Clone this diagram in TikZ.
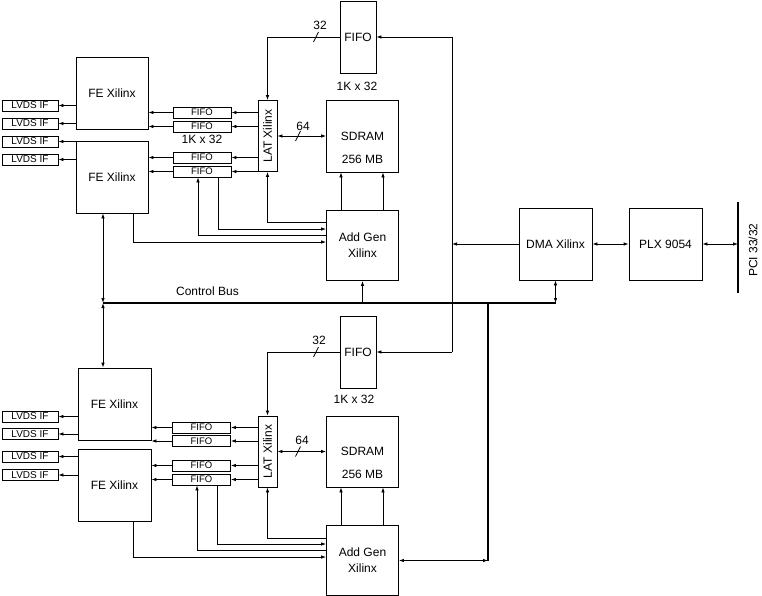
\documentclass[tikz,border=0pt]{standalone}
\usepackage{fontspec}
\setmainfont{Liberation Sans}
\usetikzlibrary{arrows.meta}

\begin{document}
\begin{tikzpicture}[x=1pt,y=-1pt,line width=0.8pt,
  font=\fontsize{12}{16}\selectfont,
  box/.style={draw, inner sep=0pt, align=center},
  febox/.style={box, minimum width=72pt, minimum height=72pt},
  lvds/.style={box, minimum width=56pt, minimum height=11pt, font=\fontsize{10}{10}\selectfont},
  ffsmall/.style={box, minimum width=58pt, minimum height=11pt, font=\fontsize{9.5}{9.5}\selectfont},
  lat/.style={box, minimum width=19pt, minimum height=71pt},
  arr/.style={-{Latex[length=5pt,width=3.5pt]}},
  dbl/.style={{Latex[length=5pt,width=3.5pt]}-{Latex[length=5pt,width=3.5pt]}},
  bus/.style={line width=2.2pt}]
\useasboundingbox (0,0) rectangle (762,596);

% upper board
\node[box, minimum width=36pt, minimum height=72pt](fifoA) at (358,37){FIFO};
\node(fifoAlab) at (357,86){1K x 32};
\node[febox](feA) at (112,93){FE Xilinx};
\node[febox](feB) at (112,177){FE Xilinx};
\foreach \i/\y in {1/105.5,2/123.5,3/141.5,4/159.5}
  \node[lvds](lvA\i) at (30,\y){LVDS IF};
\foreach \i/\y in {1/112.5,2/126.5,3/157.5,4/171.5}
  \node[ffsmall](ffA\i) at (202,\y){FIFO};
\node(ffAlab) at (202,139){1K x 32};
\node[lat](latA) at (267.5,136){\rotatebox{90}{LAT Xilinx}};
\node[box, minimum width=72pt, minimum height=72pt](sdrA) at (362.5,136){};
\node[align=center](sdrAtxt) at (362.5,147.5){SDRAM\\[7pt]256 MB};
\node[box, minimum width=72pt, minimum height=70pt](agA) at (362.5,245.5){Add Gen\\Xilinx};

% lower board
\node[box, minimum width=36pt, minimum height=72pt](fifoB) at (358,352){FIFO};
\node(fifoBlab) at (354,399){1K x 32};
\node[febox, minimum width=73pt](feC) at (114.5,404){FE Xilinx};
\node[febox, minimum width=73pt](feD) at (114.5,485){FE Xilinx};
\foreach \i/\y in {1/416.5,2/434,3/456.5,4/475}
  \node[lvds](lvB\i) at (30,\y){LVDS IF};
\foreach \i/\y in {1/427.5,2/441,3/465.5,4/479.5}
  \node[ffsmall](ffB\i) at (201.5,\y){FIFO};
\node[lat](latB) at (267.5,451.5){\rotatebox{90}{LAT Xilinx}};
\node[box, minimum width=72pt, minimum height=71pt](sdrB) at (362.5,451.5){};
\node[align=center](sdrBtxt) at (362.5,462.5){SDRAM\\[7pt]256 MB};
\node[box, minimum width=72pt, minimum height=70pt](agB) at (362.5,560.5){Add Gen\\Xilinx};

% host side
\node[box, minimum width=73pt, minimum height=72pt](dma) at (555.5,244){DMA Xilinx};
\node[box, minimum width=73pt, minimum height=72pt](plx) at (665.5,244){PLX 9054};
\coordinate(pciT) at (738,202);
\coordinate(pciB) at (738,293);
\node[rotate=90](pciLab) at (753,250){PCI 33/32};
\coordinate(busL) at (103,303);
\coordinate(busR) at (dma.south |- busL);
\coordinate(busV) at (488,303);
\coordinate(busVB) at (488,560.5);
\coordinate(rA) at (452,37);
\coordinate(rB) at (452,352);

% upper connections
\draw[arr] (fifoA.west) -| (latA.north);
\coordinate(slA) at (316,37);
\draw[shift={(slA)}] (-2.5,5) -- (2.5,-5);
\node(n32A) at (320,25){32};
\draw[dbl] (latA.east) -- (sdrA.west);
\coordinate(smA) at (298,136);
\draw[shift={(smA)}] (-2.5,5) -- (2.5,-5);
\node(n64A) at (303,126){64};
\foreach \i in {1,...,4} \draw[arr] (latA.west |- ffA\i) -- (ffA\i.east);
\foreach \i in {1,2} \draw[arr] (ffA\i.west) -- (ffA\i.west -| feA.east);
\foreach \i in {3,4} \draw[arr] (ffA\i.west) -- (ffA\i.west -| feB.east);
\foreach \i in {1,2} \draw[arr] (feA.west |- lvA\i) -- (lvA\i.east);
\foreach \i in {3,4} \draw[arr] (feB.west |- lvA\i) -- (lvA\i.east);
\foreach \dx in {-21.5,20.5}
  \draw[arr] ([xshift=\dx pt]agA.north) -- ([xshift=\dx pt]sdrA.south);
\draw[arr] ([yshift=23.5pt]agA.west) -| (latA.south);
\draw[arr] ([xshift=16pt]ffA4.south) |- ([yshift=16.5pt]agA.west);
\draw[arr] ([yshift=10.5pt]agA.west) -| ([xshift=-4pt]ffA4.south);
\draw[arr] ([xshift=21pt]feB.south) |- ([yshift=3.5pt]agA.west);

% lower connections
\draw[arr] (fifoB.west) -| (latB.north);
\coordinate(slB) at (316,352);
\draw[shift={(slB)}] (-2.5,5) -- (2.5,-5);
\node(n32B) at (319,340){32};
\draw[dbl] (latB.east) -- (sdrB.west);
\coordinate(smB) at (298,451.5);
\draw[shift={(smB)}] (-2.5,5) -- (2.5,-5);
\node(n64B) at (302,440){64};
\foreach \i in {1,...,4} \draw[arr] (latB.west |- ffB\i) -- (ffB\i.east);
\foreach \i in {1,2} \draw[arr] (ffB\i.west) -- (ffB\i.west -| feC.east);
\foreach \i in {3,4} \draw[arr] (ffB\i.west) -- (ffB\i.west -| feD.east);
\foreach \i in {1,2} \draw[arr] (feC.west |- lvB\i) -- (lvB\i.east);
\foreach \i in {3,4} \draw[arr] (feD.west |- lvB\i) -- (lvB\i.east);
\foreach \dx in {-21.5,20.5}
  \draw[arr] ([xshift=\dx pt]agB.north) -- ([xshift=\dx pt]sdrB.south);
\draw[arr] ([yshift=22.5pt]agB.west) -| (latB.south);
\draw[arr] ([xshift=15.5pt]ffB4.south) |- ([yshift=16.5pt]agB.west);
\draw[arr] ([yshift=10.5pt]agB.west) -| ([xshift=-4.5pt]ffB4.south);
\draw[arr] ([xshift=18.5pt]feD.south) |- ([yshift=3.5pt]agB.west);

% control bus and host
\draw[bus] (busL) -- (busR);
\node(busLab) at (207.5,291){Control Bus};
\draw[arr] (agA.south |- busL) -- (agA.south);
\draw[dbl] (dma.south) -- (busR);
\draw[dbl] ([xshift=-9pt]feB.south) -- (busL);
\draw[dbl] (busL) -- ([xshift=-11.5pt]feC.north);
\draw[bus] (busV) -- (busVB);
\draw[dbl] (agB.east) -- (busVB);
\draw (rA) -- (rB);
\draw[arr] (rA) -- (fifoA.east);
\draw[arr] (rB) -- (fifoB.east);
\draw[arr] (dma.west) -- (dma.west -| rA);
\draw[dbl] (dma) -- (plx);
\draw[dbl] (plx.east) -- (plx.east -| pciT);
\draw[bus] (pciT) -- (pciB);
\end{tikzpicture}
\end{document}
